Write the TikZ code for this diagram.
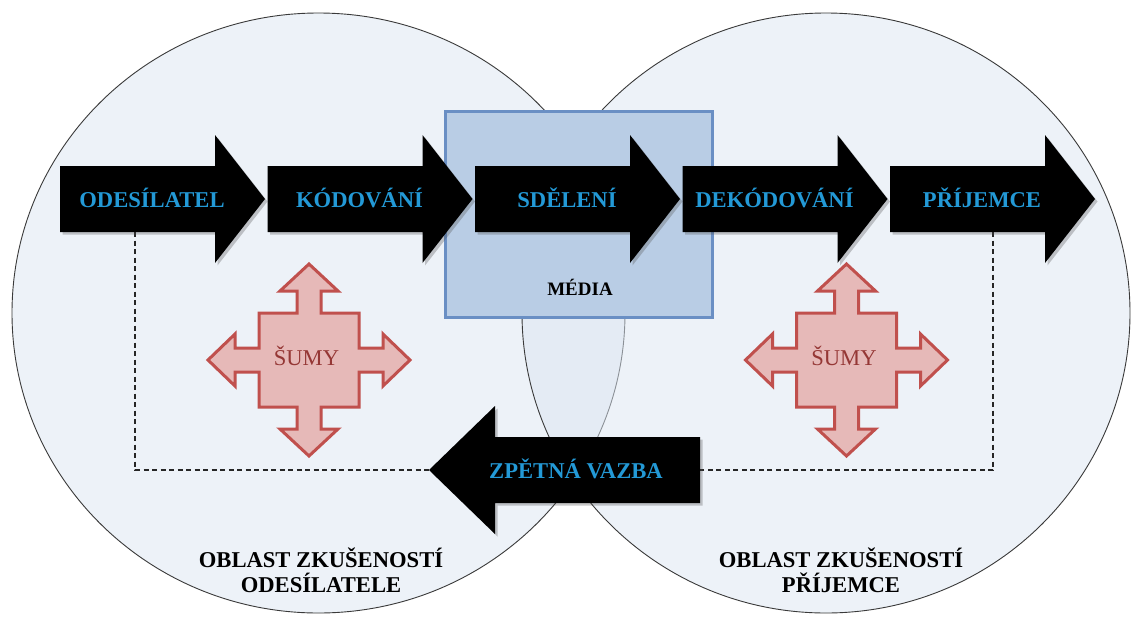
\documentclass[tikz,border=0pt]{standalone}
\usepackage{fontspec}
\setmainfont{Liberation Serif}
\usetikzlibrary{shadows}

\definecolor{zonefill}{HTML}{DCE6F2}
\definecolor{zoneline}{HTML}{3A3A3A}
\definecolor{mediafill}{HTML}{B9CDE5}
\definecolor{medialine}{HTML}{6A8FC4}
\definecolor{noisefill}{HTML}{E6B9B8}
\definecolor{noiseline}{HTML}{C0504D}
\definecolor{noisetext}{HTML}{953735}
\definecolor{labelblue}{HTML}{2399D6}

\begin{document}
\begin{tikzpicture}[x=1pt,y=-1pt,
  zone/.style={fill=zonefill, fill opacity=0.5, draw=zoneline, line width=0.9pt},
  mediabox/.style={draw=medialine, fill=mediafill, line width=3pt,
    minimum width=267pt, minimum height=206pt, inner sep=0pt},
  flowarrow/.style={fill=black,
    drop shadow={shadow xshift=2.5pt, shadow yshift=-2.5pt, opacity=0.3, fill=black!70}},
  flowlabel/.style={anchor=base, inner sep=0pt, text=labelblue,
    font=\bfseries\fontsize{22.6}{26}\selectfont},
  feedline/.style={draw=black!85, line width=1.1pt, dash pattern=on 5pt off 3.5pt},
  noise/.style={draw=noiseline, fill=noisefill, line width=3pt, line join=miter},
  noiselabel/.style={anchor=base, inner sep=0pt, text=noisetext,
    font=\fontsize{22.6}{26}\selectfont},
  medialabel/.style={anchor=base, inner sep=0pt, text=black,
    font=\bfseries\fontsize{19}{22}\selectfont},
  zonelabel/.style={anchor=base, inner sep=0pt, text=black,
    font=\bfseries\fontsize{22.6}{26}\selectfont}]

% page
\useasboundingbox (0,0) rectangle (1133,619);
\fill[white] (0,0) rectangle (1133,619);

% fields of experience of sender and receiver
\draw[zone] (318.5,313) ellipse [x radius=306.5pt, y radius=300pt];
\draw[zone] (826,313) ellipse [x radius=304pt, y radius=300pt];

% media
\node[mediabox] (media) at (578.5,214) {};
\node[medialabel] (mediaText) at (580,295) {MÉDIA};

% feedback loop lines
\coordinate (senderFoot) at (135,232);
\coordinate (receiverFoot) at (993,232);
\coordinate (fbTip) at (429,470);
\coordinate (fbEnd) at (700,470);
\draw[feedline] (senderFoot) |- (fbTip);
\draw[feedline] (receiverFoot) |- (fbEnd);

% noise
\foreach \cx/\nm in {309/noiseSender, 846.5/noiseReceiver}{
  \draw[noise, shift={(\cx,360)}]
    (0,-96) -- (29,-69) -- (12,-69) -- (12,-47) -- (50,-47) -- (50,-12)
    -- (74,-12) -- (74,-26) -- (101,0) -- (74,26) -- (74,12) -- (50,12)
    -- (50,47) -- (12,47) -- (12,69) -- (29,69) -- (0,96) -- (-29,69)
    -- (-12,69) -- (-12,47) -- (-50,47) -- (-50,12) -- (-74,12) -- (-74,26)
    -- (-101,0) -- (-74,-26) -- (-74,-12) -- (-50,-12) -- (-50,-47)
    -- (-12,-47) -- (-12,-69) -- (-29,-69) -- cycle;
  \node[noiselabel] (\nm) at (\cx-2.5,365) {ŠUMY};
}

% communication chain
\foreach \x/\nm/\txt in {60/sender/ODESÍLATEL, 267.5/encoding/KÓDOVÁNÍ,
    475/message/SDĚLENÍ, 682.5/decoding/DEKÓDOVÁNÍ, 890/receiver/PŘÍJEMCE}{
  \fill[flowarrow] (\x,166) -- ++(155,0) -- ++(0,-31) -- ++(50,64)
    -- ++(-50,64) -- ++(0,-31) -- ++(-155,0) -- cycle;
  \node[flowlabel] (\nm) at (\x+92,207) {\txt};
}

% feedback
\fill[flowarrow] (fbTip) -- (495,406) -- (495,437) -- (700,437) -- (700,503)
  -- (495,503) -- (495,534) -- cycle;
\node[flowlabel] (feedback) at (576,478) {ZPĚTNÁ VAZBA};

% field labels
\node[zonelabel] (senderZone) at (321,567) {OBLAST ZKUŠENOSTÍ};
\node[zonelabel] (senderZoneB) at (321,592) {ODESÍLATELE};
\node[zonelabel] (receiverZone) at (841,567) {OBLAST ZKUŠENOSTÍ};
\node[zonelabel] (receiverZoneB) at (841,592) {PŘÍJEMCE};
\end{tikzpicture}
\end{document}
